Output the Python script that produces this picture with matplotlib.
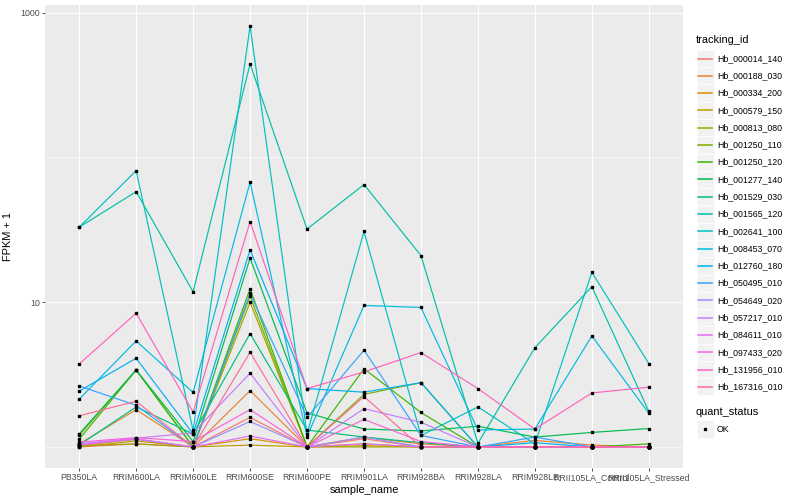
import numpy as np
import matplotlib
matplotlib.use('Agg')
import matplotlib.pyplot as plt
from matplotlib.lines import Line2D
from matplotlib.patches import Rectangle
from matplotlib.ticker import FixedLocator, NullFormatter

plt.rcParams['font.family'] = ['Liberation Sans', 'DejaVu Sans']

# echantillons (axe x)
samples = ['PB350LA', 'RRIM600LA', 'RRIM600LE', 'RRIM600SE', 'RRIM600PE', 'RRIM901LA',
           'RRIM928BA', 'RRIM928LA', 'RRIM928LE', 'RRII105LA_Control', 'RRII105LA_Stressed']

tracking_ids = ['Hb_000014_140', 'Hb_000188_030', 'Hb_000334_200', 'Hb_000579_150',
                'Hb_000813_080', 'Hb_001250_110', 'Hb_001250_120', 'Hb_001277_140',
                'Hb_001529_030', 'Hb_001565_120', 'Hb_002641_100', 'Hb_008453_070',
                'Hb_012760_180', 'Hb_050495_010', 'Hb_054649_020', 'Hb_057217_010',
                'Hb_084611_010', 'Hb_097433_020', 'Hb_131956_010', 'Hb_167316_010']

# FPKM + 1 par gene, dans l'ordre des echantillons
hb_000014_140 = [1.00, 1.05, 1.00, 1.60, 1.00, 1.14, 1.00, 1.00, 1.00, 1.00, 1.00]
hb_000188_030 = [1.05, 1.81, 1.00, 2.45, 1.00, 1.17, 1.05, 1.00, 1.11, 1.03, 1.00]
hb_000334_200 = [1.02, 1.13, 1.00, 1.14, 1.00, 1.05, 1.00, 1.00, 1.00, 1.00, 1.00]
hb_000579_150 = [1.00, 1.10, 1.00, 1.03, 1.00, 1.02, 1.00, 1.00, 1.00, 1.00, 1.00]
hb_000813_080 = [1.02, 1.05, 1.00, 10.0, 1.00, 1.00, 1.00, 1.00, 1.00, 1.00, 1.00]
hb_001250_110 = [1.20, 3.40, 1.00, 11.0, 1.00, 2.31, 2.78, 1.00, 1.00, 1.00, 1.00]
hb_001250_120 = [1.13, 3.40, 1.00, 12.4, 1.00, 3.47, 1.73, 1.00, 1.00, 1.00, 1.05]
hb_001277_140 = [1.23, 3.40, 1.09, 20.2, 1.72, 1.33, 1.29, 1.39, 1.17, 1.26, 1.34]
hb_001529_030 = [1.03, 1.89, 1.23, 6.07, 1.31, 1.17, 1.07, 1.00, 1.00, 1.00, 1.00]
hb_001565_120 = [33.0, 58.0, 11.8, 442.0, 32.0, 65.0, 21.0, 1.06, 4.85, 12.8, 1.76]
hb_002641_100 = [33.0, 81.0, 1.30, 809.0, 1.23, 30.8, 1.20, 1.89, 1.05, 16.1, 3.77]
hb_008453_070 = [2.14, 5.40, 2.38, 67.6, 1.18, 9.50, 9.20, 1.31, 1.33, 5.85, 1.71]
hb_012760_180 = [2.43, 4.10, 1.23, 23.0, 2.53, 2.39, 2.78, 1.00, 1.07, 1.00, 1.00]
hb_050495_010 = [2.64, 1.94, 1.00, 11.5, 1.60, 4.66, 1.20, 1.00, 1.17, 1.00, 1.00]
hb_054649_020 = [1.05, 1.13, 1.00, 1.50, 1.00, 1.17, 1.00, 1.00, 1.00, 1.00, 1.00]
hb_057217_010 = [1.05, 1.15, 1.25, 3.23, 1.00, 1.84, 1.48, 1.00, 1.00, 1.00, 1.00]
hb_084611_010 = [1.03, 1.14, 1.00, 1.19, 1.00, 1.05, 1.00, 1.00, 1.00, 1.00, 1.00]
hb_097433_020 = [1.08, 1.16, 1.09, 1.81, 1.00, 1.55, 1.09, 1.00, 1.00, 1.00, 1.00]
hb_131956_010 = [3.74, 8.40, 1.74, 36.0, 2.53, 3.30, 4.49, 2.53, 1.33, 2.36, 2.59]
hb_167316_010 = [1.64, 2.07, 1.00, 4.51, 1.00, 2.23, 1.00, 1.00, 1.00, 1.00, 1.00]

series = [hb_000014_140, hb_000188_030, hb_000334_200, hb_000579_150, hb_000813_080,
          hb_001250_110, hb_001250_120, hb_001277_140, hb_001529_030, hb_001565_120,
          hb_002641_100, hb_008453_070, hb_012760_180, hb_050495_010, hb_054649_020,
          hb_057217_010, hb_084611_010, hb_097433_020, hb_131956_010, hb_167316_010]

# palette hue de ggplot (20 niveaux)
colors = ['#F8766D', '#EA8331', '#D89000', '#C09B00', '#A3A500', '#7CAE00', '#39B600',
          '#00BB4E', '#00BF7D', '#00C1A3', '#00BFC4', '#00BAE0', '#00B0F6', '#35A2FF',
          '#9590FF', '#C77CFF', '#E76BF3', '#FA62DB', '#FF62BC', '#FF6C91']

fig = plt.figure(figsize=(8, 5), dpi=100)
ax = fig.add_axes([45 / 800, 1 - 468 / 500, 638 / 800, 463 / 500])
ax.set_facecolor('#EBEBEB')
for s in ax.spines.values():
    s.set_visible(False)

x = np.arange(len(samples))
for vals, col in zip(series, colors):
    ax.plot(x, vals, color=col, lw=0.85, zorder=2)
for vals in series:
    ax.plot(x, vals, ls='none', marker='s', ms=1.9, color='black', zorder=3)

# echelle log avec expansion de 5% comme ggplot
allv = np.concatenate([np.asarray(v) for v in series])
lo, hi = np.log10(allv.min()), np.log10(allv.max())
pad = 0.05 * (hi - lo)
ax.set_yscale('log')
ax.set_ylim(10 ** (lo - pad), 10 ** (hi + pad))
ax.set_xlim(-0.6, len(samples) - 0.4)

ax.yaxis.set_major_locator(FixedLocator([10, 1000]))
ax.yaxis.set_minor_locator(FixedLocator([1, 100]))
ax.yaxis.set_minor_formatter(NullFormatter())
ax.set_yticklabels(['10', '1000'])
ax.set_xticks(x)
ax.set_xticklabels(samples)
ax.tick_params(which='major', length=2.2, width=0.6, color='#333333',
               labelsize=6.3, labelcolor='#4D4D4D', pad=1.5)
ax.tick_params(which='minor', length=0)
ax.grid(which='major', color='white', lw=0.8)
ax.grid(which='minor', axis='y', color='white', lw=0.4)
ax.set_axisbelow(True)

ax.set_xlabel('sample_name', fontsize=7.9, labelpad=2)
ax.set_ylabel('FPKM + 1', fontsize=7.9, labelpad=5)

# legendes dessinees a la main, en pixels
lax = fig.add_axes([0, 0, 1, 1])
lax.set_xlim(0, 800)
lax.set_ylim(500, 0)
lax.axis('off')

lax.text(696, 40, 'tracking_id', fontsize=7.9, va='center', ha='left')
step = 17.28
for i, (tid, col) in enumerate(zip(tracking_ids, colors)):
    yc = 58.5 + i * step
    lax.add_patch(Rectangle((696.5, yc - step / 2), step, step, facecolor='#F2F2F2',
                            edgecolor='white', lw=0.5))
    lax.add_line(Line2D([698, 712], [yc, yc], color=col, lw=1.1))
    lax.text(717, yc, tid, fontsize=6.3, va='center', ha='left')

lax.text(696, 412, 'quant_status', fontsize=7.9, va='center', ha='left')
lax.add_patch(Rectangle((696.5, 429 - step / 2), step, step, facecolor='#F2F2F2',
                        edgecolor='white', lw=0.5))
lax.add_line(Line2D([705], [429], ls='none', marker='s', ms=2.0, color='black'))
lax.text(717, 429, 'OK', fontsize=6.3, va='center', ha='left')

fig.savefig('out.png', dpi=100)
